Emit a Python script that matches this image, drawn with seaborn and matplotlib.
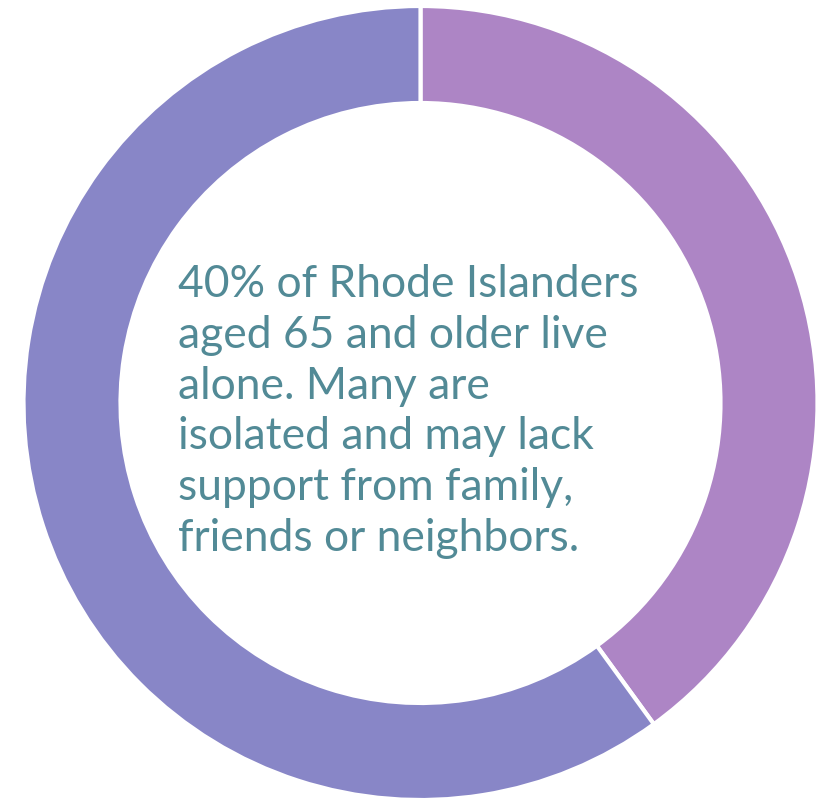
import matplotlib
matplotlib.use("Agg")
import matplotlib.pyplot as plt
import seaborn as sns

categories = ["Live alone", "Other"]
values = [40, 60]
colors = ["#AD85C5", "#8886C7"]
text_lines = [
    "40% of Rhode Islanders",
    "aged 65 and older live",
    "alone. Many are",
    "isolated and may lack",
    "support from family,",
    "friends or neighbors.",
]

sns.set_theme(style="white")
plt.rcParams['font.family'] = ['Lato', 'DejaVu Sans']

W, H = 821, 801
fig = plt.figure(figsize=(W / 100, H / 100), dpi=100)
ax = fig.add_axes([0, 0, 1, 1])

cx, cy, r = 420.5, 403, 397
ax.pie(values, colors=colors, startangle=90, counterclock=False,
       center=(cx, H - cy), radius=r, frame=True,
       wedgeprops=dict(width=97, edgecolor="white", linewidth=3))
ax.set_xlim(0, W)
ax.set_ylim(0, H)
ax.set_aspect("auto")
ax.axis("off")

# fit font size to target width of first line
target_w = 462
fs = 32
fig.canvas.draw()
renderer = fig.canvas.get_renderer()
t = ax.text(178, H - 297, text_lines[0], fontsize=fs, color="#528A96",
            va="baseline", ha="left")
bw = t.get_window_extent(renderer).width
fs = fs * target_w / bw
t.remove()

for i, line in enumerate(text_lines):
    ax.text(178, H - (297 + 50.8 * i), line, fontsize=fs, color="#528A96",
            va="baseline", ha="left")

fig.savefig("out.png", dpi=100)
